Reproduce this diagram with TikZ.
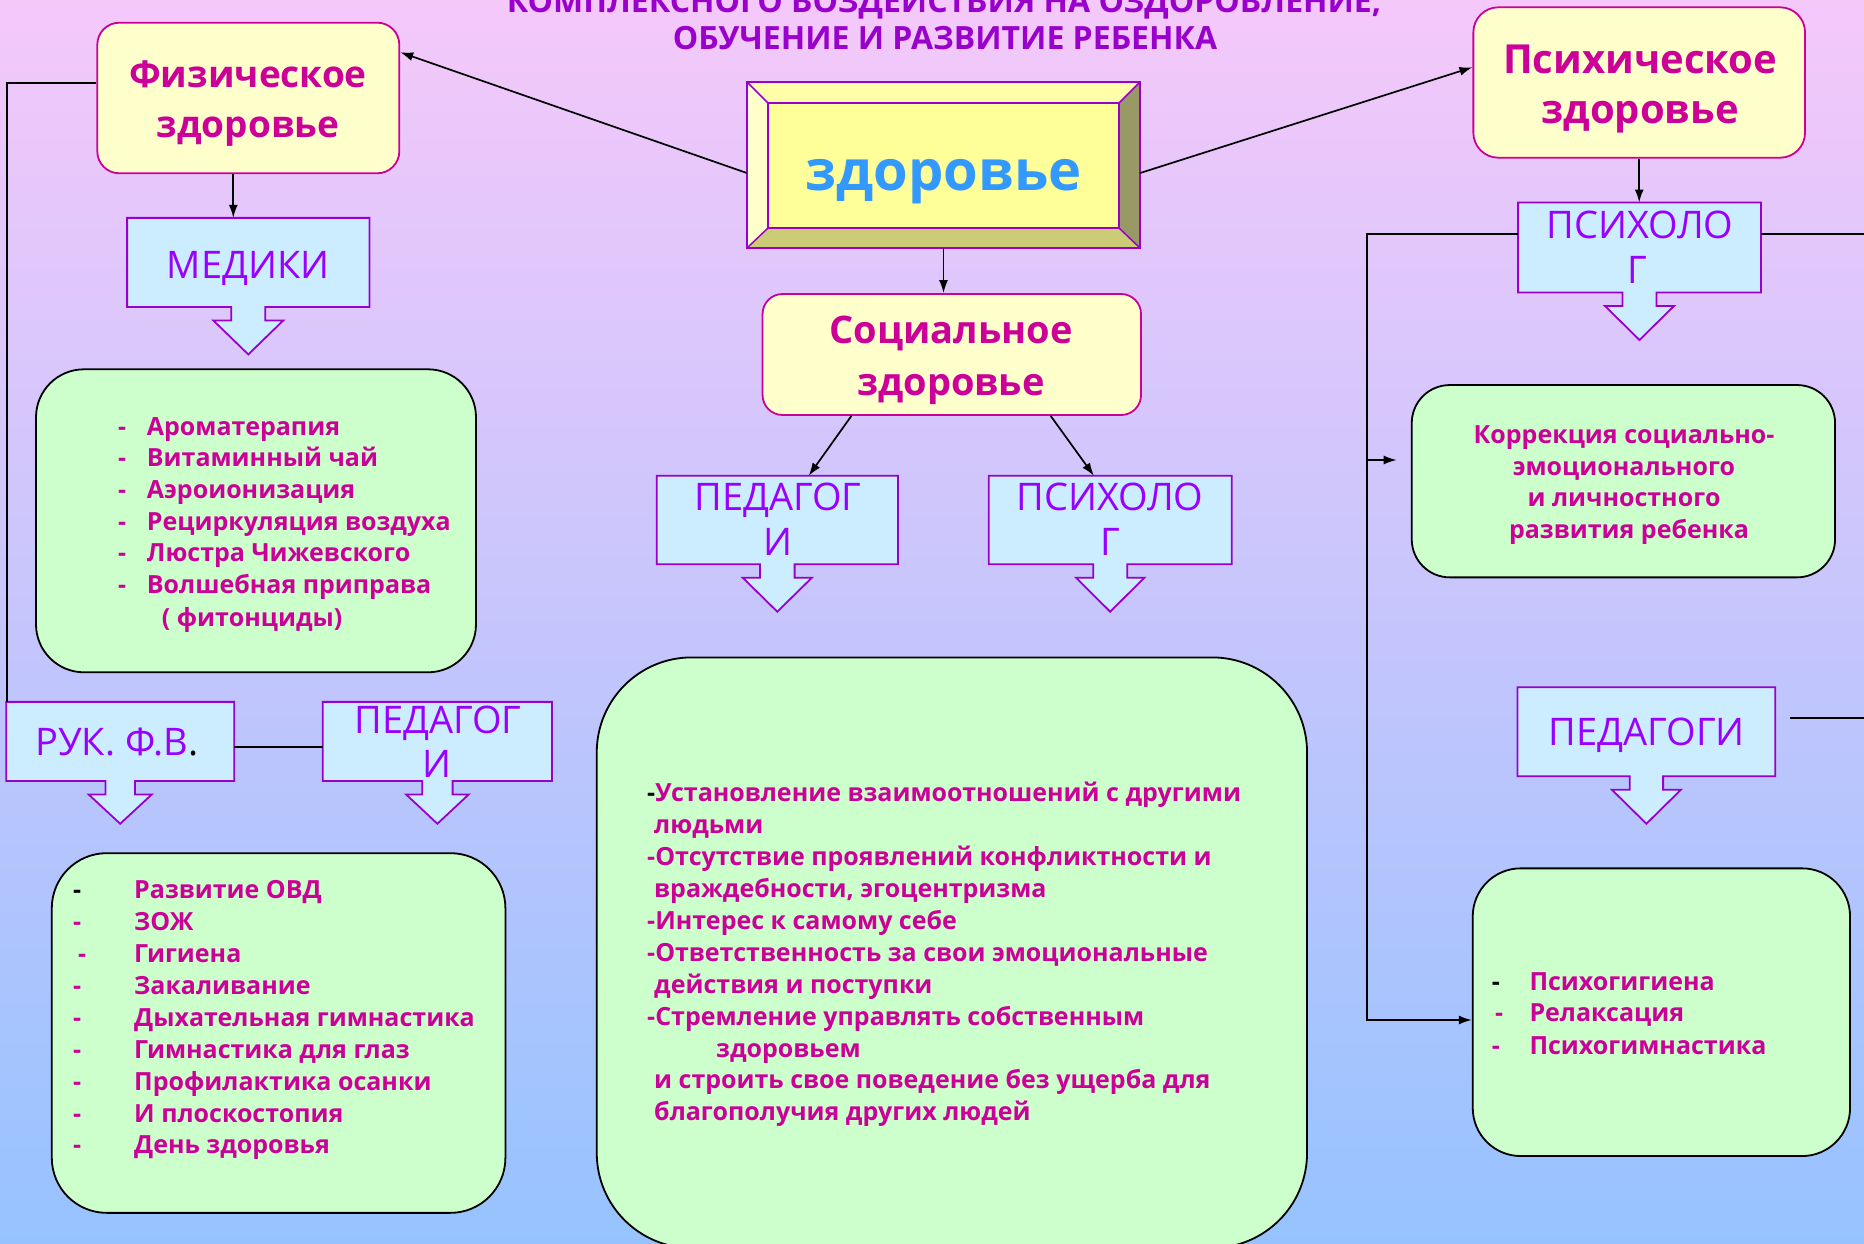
\documentclass[tikz,border=0pt]{standalone}
\usepackage{fontspec}
\setmainfont{Open Sans}
\usetikzlibrary{arrows.meta,calc}
\definecolor{mag}{HTML}{CC0099}
\definecolor{pur}{HTML}{9900FF}
\definecolor{purb}{HTML}{9900CC}
\definecolor{yel}{HTML}{FFFFCC}
\definecolor{grn}{HTML}{CCFFCC}
\definecolor{cyn}{HTML}{CCECFF}
\definecolor{bgtop}{HTML}{F5C8FA}
\definecolor{bgbot}{HTML}{96C3FF}
\definecolor{zblue}{HTML}{3399FF}
\definecolor{bvtop}{HTML}{FFFFAA}
\definecolor{bvleft}{HTML}{FFFFCC}
\definecolor{bvright}{HTML}{999966}
\definecolor{bvbot}{HTML}{CCCC77}
\definecolor{bvmid}{HTML}{FFFF99}
\newcommand\callout[4]{%
  \draw[callbody] (#1.north west) -- (#1.north east) -- (#1.south east)
    -- ($(#1.south)+(#2,0)$) -- ($(#1.south)+(#2,13.5)$) -- ($(#1.south)+(#3,13.5)$)
    -- ($(#1.south)+(0,13.5+#4)$) -- ($(#1.south)+(-#3,13.5)$) -- ($(#1.south)+(-#2,13.5)$)
    -- ($(#1.south)+(-#2,0)$) -- (#1.south west) -- cycle;}
\newcommand\bodyline[4]{\node[body] (#1) at (#2,#3) {#4};}
\newcommand\labline[4]{\node[lab] (#1) at (#2,#3) {#4};}
\begin{document}
\begin{tikzpicture}[x=1pt,y=-1pt,
  arr/.style={draw=black, line width=1.7pt, -{Latex[length=13pt,width=9pt]}},
  ln/.style={draw=black, line width=1.7pt},
  headbox/.style={draw=mag, fill=yel, line width=1.8pt, inner sep=0pt},
  greenbox/.style={draw=black, fill=grn, line width=1.8pt, inner sep=0pt},
  boxslot/.style={draw=none, inner sep=0pt},
  callbody/.style={draw=purb, fill=cyn, line width=1.8pt},
  bevel/.style={draw=purb, line width=1.5pt},
  lab/.style={text=pur, font=\fontsize{38}{45}\selectfont, inner sep=0pt, anchor=base},
  body/.style={text=mag, font=\bfseries\fontsize{25}{32}\selectfont, inner sep=0pt, anchor=base west},
  bodyc/.style={body, anchor=base},
  head/.style={text=mag, inner sep=0pt, anchor=base},
  ttl/.style={text=purb, font=\bfseries\fontsize{32}{37}\selectfont, inner sep=0pt, anchor=base}]
\useasboundingbox (0,0) rectangle (1864,1244);
\clip (0,0) rectangle (1864,1244);
\shade[top color=bgtop, bottom color=bgbot] (0,0) rectangle (1864,1244);

% title
\node[ttl] (t1) at (944,13) {КОМПЛЕКСНОГО ВОЗДЕЙСТВИЯ НА ОЗДОРОВЛЕНИЕ,};
\node[ttl] (t2) at (945,50) {ОБУЧЕНИЕ И РАЗВИТИЕ РЕБЕНКА};

% main bevel box
\node[boxslot, minimum width=393pt, minimum height=166pt] (main) at (943.5,165) {};
\fill[bvtop] (main.north west) -- (main.north east) -- ($(main.north east)+(-21,21)$) -- ($(main.north west)+(21,21)$) -- cycle;
\fill[bvright] (main.north east) -- (main.south east) -- ($(main.south east)+(-21,-20)$) -- ($(main.north east)+(-21,21)$) -- cycle;
\fill[bvbot] (main.south east) -- (main.south west) -- ($(main.south west)+(21,-20)$) -- ($(main.south east)+(-21,-20)$) -- cycle;
\fill[bvleft] (main.south west) -- (main.north west) -- ($(main.north west)+(21,21)$) -- ($(main.south west)+(21,-20)$) -- cycle;
\filldraw[bvmid, bevel] ($(main.north west)+(21,21)$) rectangle ($(main.south east)+(-21,-20)$);
\draw[bevel] (main.north west) rectangle (main.south east);
\draw[bevel] (main.north west) -- ($(main.north west)+(21,21)$)
  (main.north east) -- ($(main.north east)+(-21,21)$)
  (main.south east) -- ($(main.south east)+(-21,-20)$)
  (main.south west) -- ($(main.south west)+(21,-20)$);
\node[text=zblue, font=\bfseries\fontsize{56}{60}\selectfont, inner sep=0pt, anchor=base] (mainlbl) at (943.5,190) {здоровье};

% heading boxes
\node[headbox, rounded corners=22pt, minimum width=302pt, minimum height=150.6pt] (fiz) at (248.3,98) {};
\node[head, font=\bfseries\fontsize{37}{45}\selectfont] (fiz1) at (248,88) {Физическое};
\node[head, font=\bfseries\fontsize{37}{45}\selectfont] (fiz2) at (248,138) {здоровье};

\node[headbox, rounded corners=25pt, minimum width=331.7pt, minimum height=150.4pt] (psy) at (1639.2,82.5) {};
\node[head, font=\bfseries\fontsize{40}{48}\selectfont] (psy1) at (1640,73.3) {Психическое};
\node[head, font=\bfseries\fontsize{40}{48}\selectfont] (psy2) at (1640,123.3) {здоровье};

\node[headbox, rounded corners=20pt, minimum width=378.5pt, minimum height=121pt] (soc) at (951.8,354.5) {};
\node[head, font=\bfseries\fontsize{38}{46}\selectfont] (soc1) at (951,343.3) {Социальное};
\node[head, font=\bfseries\fontsize{38}{46}\selectfont] (soc2) at (951,395) {здоровье};

% callout boxes
\node[boxslot, minimum width=242pt, minimum height=88.7pt] (med) at (248.3,262.4) {};
\callout{med}{17}{35}{34}
\labline{medl}{248}{278}{МЕДИКИ}

\node[boxslot, minimum width=242.4pt, minimum height=89.6pt] (psc1) at (1639.5,247.5) {};
\callout{psc1}{17}{34.5}{34}
\labline{psc1a}{1640}{238.3}{ПСИХОЛО}
\labline{psc1b}{1637}{283.3}{Г}

\node[boxslot, minimum width=240.9pt, minimum height=88pt] (ped2) at (777.3,520) {};
\callout{ped2}{17.3}{34.6}{34}
\labline{ped2a}{778}{510}{ПЕДАГОГ}
\labline{ped2b}{778}{555}{И}

\node[boxslot, minimum width=242.5pt, minimum height=88pt] (psc2) at (1110.2,520) {};
\callout{psc2}{17}{34.2}{34}
\labline{psc2a}{1110}{510}{ПСИХОЛО}
\labline{psc2b}{1110}{555}{Г}

\node[boxslot, minimum width=227.6pt, minimum height=78.7pt] (ruk) at (120.2,741.4) {};
\callout{ruk}{14.7}{31.6}{29.3}
\labline{rukl}{117}{755}{РУК. Ф.В\textcolor{black}{.}}

\node[boxslot, minimum width=228.8pt, minimum height=78.7pt] (ped1) at (437.4,741.4) {};
\callout{ped1}{15.2}{31.3}{29.3}
\labline{ped1a}{438}{733.6}{ПЕДАГОГ}
\labline{ped1b}{437}{777}{И}

\node[boxslot, minimum width=257.3pt, minimum height=88.7pt] (ped3) at (1646.4,731.7) {};
\callout{ped3}{16.7}{34.5}{34}
\labline{ped3l}{1646.7}{745}{ПЕДАГОГИ}

% green boxes
\node[greenbox, rounded corners=48pt, minimum width=440pt, minimum height=303pt] (g1) at (256,520.8) {};
\node[greenbox, rounded corners=55pt, minimum width=453.6pt, minimum height=359.7pt] (g2) at (278.6,1033) {};
\node[greenbox, rounded corners=95pt, minimum width=710.3pt, minimum height=590.6pt] (g3) at (951.9,952.7) {};
\node[greenbox, rounded corners=38pt, minimum width=423.3pt, minimum height=192.3pt] (corr) at (1623.4,481.2) {};
\node[greenbox, rounded corners=48pt, minimum width=377.3pt, minimum height=287.7pt] (g4) at (1661.4,1012.2) {};

% g1 text
\bodyline{g1a}{118}{435}{\makebox[28.7pt][l]{-}Ароматерапия}
\bodyline{g1b}{118}{466.7}{\makebox[28.7pt][l]{-}Витаминный чай}
\bodyline{g1c}{118}{498}{\makebox[28.7pt][l]{-}Аэроионизация}
\bodyline{g1d}{118}{530}{\makebox[28.7pt][l]{-}Рециркуляция воздуха}
\bodyline{g1e}{118}{561.7}{\makebox[28.7pt][l]{-}Люстра Чижевского}
\bodyline{g1f}{118}{593.3}{\makebox[28.7pt][l]{-}Волшебная приправа}
\bodyline{g1g}{161.7}{626.7}{( фитонциды)}

% g2 text
\bodyline{g2d1}{73}{898}{\textcolor{black}{-}}
\bodyline{g2d2}{73}{930}{-}
\bodyline{g2d3}{78}{962}{-}
\bodyline{g2d4}{73}{994}{-}
\bodyline{g2d5}{73}{1026}{-}
\bodyline{g2d6}{73}{1058}{-}
\bodyline{g2d7}{73}{1090}{-}
\bodyline{g2d8}{73}{1122}{-}
\bodyline{g2d9}{73}{1153}{-}
\bodyline{g2a}{134}{898}{Развитие ОВД}
\bodyline{g2b}{134}{930}{ЗОЖ}
\bodyline{g2c}{134}{962}{Гигиена}
\bodyline{g2e}{134}{994}{Закаливание}
\bodyline{g2f}{134}{1026}{Дыхательная гимнастика}
\bodyline{g2g}{134}{1058}{Гимнастика для глаз}
\bodyline{g2h}{134}{1090}{Профилактика осанки}
\bodyline{g2i}{134}{1122}{И плоскостопия}
\bodyline{g2j}{134}{1153}{День здоровья}

% g3 text
\bodyline{g3a}{647}{801.8}{\textcolor{black}{-}Установление взаимоотношений с другими}
\bodyline{g3b}{654}{833.7}{людьми}
\bodyline{g3c}{647}{865.6}{-Отсутствие проявлений конфликтности и}
\bodyline{g3d}{654}{897.5}{враждебности, эгоцентризма}
\bodyline{g3e}{647}{929.4}{-Интерес к самому себе}
\bodyline{g3f}{647}{961.3}{-Ответственность за свои эмоциональные}
\bodyline{g3g}{654}{993.2}{действия и поступки}
\bodyline{g3h}{647}{1025.1}{-Стремление управлять собственным}
\bodyline{g3i}{716}{1057}{здоровьем}
\bodyline{g3j}{654}{1088.9}{и строить свое поведение без ущерба для}
\bodyline{g3k}{654}{1120.8}{благополучия других людей}

% corr text
\node[bodyc] (c1) at (1624,443.3) {Коррекция социально-};
\node[bodyc] (c2) at (1624,475) {эмоционального};
\node[bodyc] (c3) at (1624,506.7) {и личностного};
\node[bodyc] (c4) at (1629,538.3) {развития ребенка};

% g4 text
\bodyline{g4d1}{1491.7}{990}{\textcolor{black}{-}}
\bodyline{g4d2}{1495}{1021.7}{-}
\bodyline{g4d3}{1491.7}{1054}{-}
\bodyline{g4a}{1529.3}{990}{Психогигиена}
\bodyline{g4b}{1529.3}{1021.7}{Релаксация}
\bodyline{g4c}{1529.3}{1054}{Психогимнастика}

% connectors
\draw[arr] (main.west |- 0,173) -- ($(fiz.north east)!0.2!(fiz.south east)$);
\draw[arr] (main.east |- 0,173) -- ($(psy.north west)!0.4!(psy.south west)$);
\draw[arr] (main.south) -- (main.south |- soc.north);
\draw[arr] ($(fiz.south)+(-15,0)$) -- ($(med.north)+(-15,0)$);
\draw[arr] (psy.south) -- (psy.south |- psc1.north);
\draw[arr] ($(soc.south west)!0.236!(soc.south east)$) -- ($(ped2.north west)!0.63!(ped2.north east)$);
\draw[arr] ($(soc.south west)!0.76!(soc.south east)$) -- ($(psc2.north west)!0.433!(psc2.north east)$);
\draw[ln] ($(fiz.north west)!0.4!(fiz.south west)$) -| ($(ruk.north west)+(0.5,0)$);
\draw[ln] ($(ruk.east)+(0,5.5)$) -- ($(ped1.west)+(0,5.5)$);
\coordinate (rjoin) at (1366.7,460);
\coordinate (rbr) at (1396.7,460);
\coordinate (redge1) at (1864,234);
\coordinate (redge2) at (1864,717.7);
\draw[arr] ($(psc1.west)+(0,-13.5)$) -| (rjoin) |- ($(g4.west)+(0,7.8)$);
\draw[arr] (rjoin) -- (rbr);
\draw[ln] ($(psc1.east)+(0,-13.5)$) -- (redge1);
\draw[ln] ($(ped3.east)+(15,-14)$) -- (redge2);
\end{tikzpicture}
\end{document}
